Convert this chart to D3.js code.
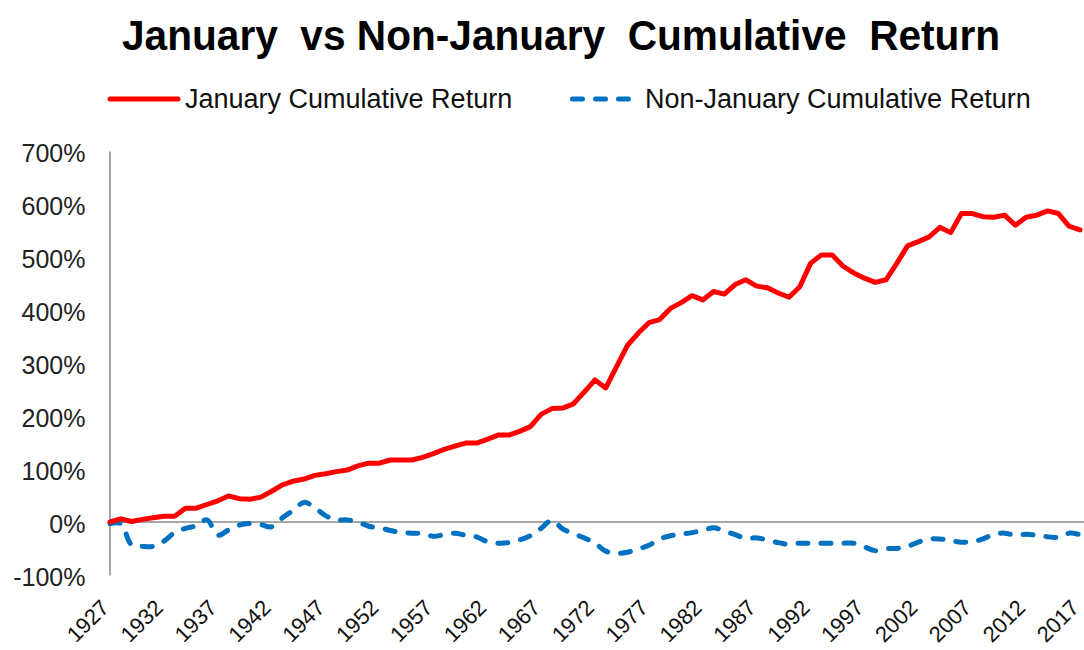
<!DOCTYPE html>
<html>
<head>
<meta charset="utf-8">
<script src="https://cdn.jsdelivr.net/npm/d3@7"></script>
<style>
	body { margin: 0; background: white; }
	#outer { width: 1084px; height: 650px; }
</style>
</head>
<body>
<div id="outer"></div>
<script>
////////// DATA //////////
const years = d3.range(1927, 2018);
const xTickYears = [1927, 1932, 1937, 1942, 1947, 1952, 1957, 1962, 1967, 1972, 1977, 1982, 1987, 1992, 1997, 2002, 2007, 2012, 2017];
const yTicks = [-100, 0, 100, 200, 300, 400, 500, 600, 700];

// cumulative return, percent
const januaryReturn = [
	0, 6, 1, 5, 8, 11, 11, 26, 26, 33,
	40, 49, 44, 43, 47, 58, 70, 77, 81, 88,
	91, 95, 98, 106, 111, 111, 117, 117, 117, 122,
	129, 137, 143, 149, 149, 156, 164, 164, 171, 180,
	203, 214, 215, 223, 245, 268, 253, 293, 333, 356,
	376, 382, 403, 414, 427, 419, 435, 430, 448, 457,
	445, 442, 432, 424, 444, 488, 504, 504, 483, 470,
	460, 452, 457, 488, 521, 529, 538, 556, 546, 582,
	582, 576, 575, 579, 560, 575, 579, 587, 582, 558,
	551
];
const nonJanuaryReturn = [
	-3, -3, -43, -46, -46, -36, -20, -12, -7, 4,
	-25, -15, -6, -3, -5, -9, 8, 22, 37, 27,
	12, 4, 4, 0, -8, -11, -16, -20, -21, -22,
	-27, -24, -21, -25, -28, -37, -40, -39, -34, -26,
	-12, 3, -13, -22, -30, -40, -55, -59, -57, -51,
	-44, -32, -26, -23, -20, -16, -11, -17, -24, -31,
	-30, -34, -39, -42, -40, -40, -40, -40, -40, -40,
	-47, -54, -50, -50, -46, -38, -32, -32, -35, -38,
	-37, -32, -23, -21, -25, -23, -25, -28, -29, -21,
	-24
];

const seriesNames = ['January Cumulative Return', 'Non-January Cumulative Return'];


////////////////////////////////////////////////////////////////
	// Setup
////////////////////////////////////////////////////////////////
const width = 1084;
const height = 650;
const margin = {top: 151, left: 110, right: 4, bottom: 75};
const font = 'Arial, "Liberation Sans", sans-serif';
const redColor = '#ff0000';
const blueColor = '#0070c0';
const axisColor = '#a6a6a6';

const svg = d3.select('#outer').append('svg')
	.attr('width', width)
	.attr('height', height)
	.style('font-family', font);

const x = d3.scalePoint()
	.domain(years)
	.range([margin.left, width - margin.right]);

const y = d3.scaleLinear()
	.domain([-100, 700])
	.range([height - margin.bottom, margin.top]);


////////////////////////////////////////////////////////////////
	// Title & Legend
////////////////////////////////////////////////////////////////
svg.append('text')
	.attr('x', 561)
	.attr('y', 50)
	.attr('text-anchor', 'middle')
	.style('white-space', 'pre')
	.attr('font-size', 42)
	.attr('font-weight', 'bold')
	.attr('textLength', 878)
	.attr('lengthAdjust', 'spacingAndGlyphs')
	.text('January  vs Non-January  Cumulative  Return');

const legend = svg.append('g').attr('class', 'legend');
legend.append('line')
	.attr('x1', 110).attr('x2', 178)
	.attr('y1', 99).attr('y2', 99)
	.attr('stroke', redColor)
	.attr('stroke-width', 5)
	.attr('stroke-linecap', 'round');
legend.append('text')
	.attr('x', 185).attr('y', 108)
	.attr('font-size', 27)
	.attr('fill', '#111')
	.text(seriesNames[0]);
legend.append('line')
	.attr('x1', 572.5).attr('x2', 630)
	.attr('y1', 99).attr('y2', 99)
	.attr('stroke', blueColor)
	.attr('stroke-width', 5)
	.attr('stroke-linecap', 'round')
	.attr('stroke-dasharray', '10,13');
legend.append('text')
	.attr('x', 645).attr('y', 108)
	.attr('font-size', 27)
	.attr('fill', '#111')
	.text(seriesNames[1]);


////////////////////////////////////////////////////////////////
	// Axes
////////////////////////////////////////////////////////////////
const yAxis = svg.append('g')
	.attr('transform', `translate(${margin.left - 0.5},0)`)
	.call(d3.axisLeft(y).tickValues(yTicks).tickSize(0).tickPadding(24).tickFormat(d => d + '%'));
yAxis.select('.domain').attr('stroke', axisColor).attr('stroke-width', 2);
yAxis.selectAll('text')
	.attr('font-size', 25)
	.attr('font-family', font)
	.attr('fill', '#222')
	.attr('dy', '0.42em');

// zero line
svg.append('line')
	.attr('x1', margin.left).attr('x2', width)
	.attr('y1', y(0)).attr('y2', y(0))
	.attr('stroke', axisColor)
	.attr('stroke-width', 2);

const xAxis = svg.append('g')
	.attr('transform', `translate(0,${y(-100) + 34})`)
	.call(d3.axisBottom(x).tickValues(xTickYears).tickSize(0).tickPadding(0));
xAxis.select('.domain').remove();
xAxis.selectAll('text')
	.attr('font-size', 22)
	.attr('font-family', font)
	.attr('fill', '#111')
	.attr('text-anchor', 'end')
	.attr('x', 0)
	.attr('y', 0)
	.attr('dy', 0)
	.attr('transform', 'rotate(-45)');


////////////////////////////////////////////////////////////////
	// Lines
////////////////////////////////////////////////////////////////
const straightLine = d3.line()
	.x((d, i) => x(years[i]))
	.y(d => y(d));

const smoothLine = d3.line()
	.x((d, i) => x(years[i]))
	.y(d => y(d))
	.curve(d3.curveCatmullRom);

svg.append('path')
	.datum(nonJanuaryReturn)
	.attr('fill', 'none')
	.attr('stroke', blueColor)
	.attr('stroke-width', 5)
	.attr('stroke-linecap', 'round')
	.attr('stroke-dasharray', '10,13')
	.attr('d', smoothLine);

svg.append('path')
	.datum(januaryReturn)
	.attr('fill', 'none')
	.attr('stroke', redColor)
	.attr('stroke-width', 5)
	.attr('stroke-linejoin', 'round')
	.attr('stroke-linecap', 'round')
	.attr('d', straightLine);
</script>
</body>
</html>
